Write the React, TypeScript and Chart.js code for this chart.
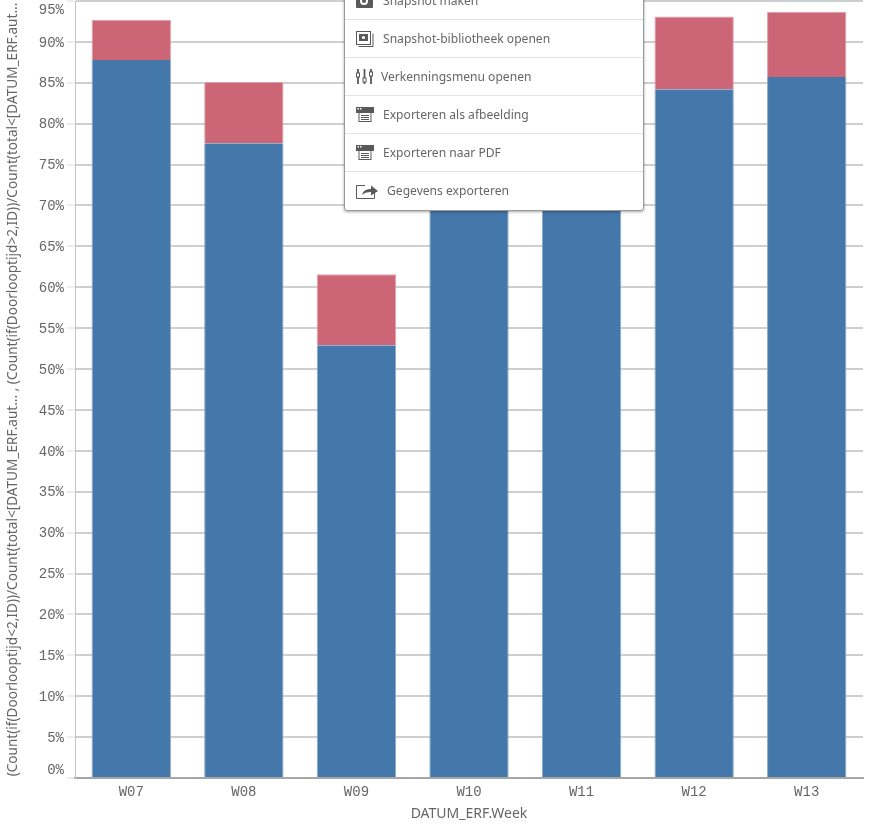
import React, { useEffect, useRef } from "react";
import { Chart, registerables } from "chart.js";

Chart.register(...registerables);

const weeks = ["W07", "W08", "W09", "W10", "W11", "W12", "W13"];
const withinTwo = [87.8, 77.6, 52.9, 79, 81, 84.2, 85.7];
const overTwo = [4.9, 7.5, 8.7, 8, 6, 8.9, 8.0];
const yTitle = "(Count(if(Doorlooptijd<2,ID))/Count(total<[DATUM_ERF.aut... , (Count(if(Doorlooptijd>2,ID))/Count(total<[DATUM_ERF.aut...";
const xTitle = "DATUM_ERF.Week";
const menuItems = ["Snapshot maken", "Snapshot-bibliotheek openen", "Verkenningsmenu openen", "Exporteren als afbeelding", "Exporteren naar PDF", "Gegevens exporteren"];
const menuIcons = ["camera", "library", "sliders", "window", "window", "share"];
const menuTextLeft = [38, 38, 36, 38, 38, 42];

function Icon({ kind }: { kind: string }) {
  const c = "#595959";
  if (kind === "camera") return <svg width="20" height="20"><rect x="1" y="3" width="17" height="14" rx="1" fill={c} /><circle cx="9" cy="10" r="4" fill="#fff" /><circle cx="9" cy="10" r="2" fill={c} /></svg>;
  if (kind === "library") return <svg width="20" height="20"><path d="M3.5 17.5h14.5v-13" fill="none" stroke={c} /><rect x="1.5" y="2.5" width="14" height="13" fill="#fff" stroke={c} /><rect x="4" y="5" width="9" height="7" fill={c} /><circle cx="8.5" cy="8.5" r="1.6" fill="#fff" /></svg>;
  if (kind === "sliders") return <svg width="20" height="20"><path d="M3 2v15M9.5 2v15M16 2v15" stroke={c} strokeWidth="1.8" /><rect x="1.5" y="6" width="3" height="4" fill="#fff" stroke={c} /><rect x="8" y="11" width="3" height="4" fill="#fff" stroke={c} /><rect x="14.5" y="5" width="3" height="4" fill="#fff" stroke={c} /></svg>;
  if (kind === "window") return <svg width="20" height="20"><rect x="1" y="2" width="18" height="6" fill={c} /><rect x="2.5" y="3" width="1.5" height="1.5" fill="#fff" /><rect x="5" y="3" width="1.5" height="1.5" fill="#fff" /><rect x="3.5" y="7" width="13" height="10" fill={c} /><rect x="4.5" y="8" width="11" height="8" fill="#fff" /><path d="M6 10.5h8M6 12.5h8M6 14.5h8" stroke={c} /></svg>;
  return <svg width="24" height="20"><path d="M10 4.5H1.5v13h18v-6" fill="none" stroke={c} /><path d="M7 14c1-4 4-6 9-6V4.5l7 5.5-7 4.5V11c-4 0-7 1-9 3z" fill={c} /></svg>;
}

export default function App() {
  const ref = useRef<HTMLCanvasElement>(null);

  useEffect(() => {
    document.body.style.margin = "0";
    const chart = new Chart(ref.current!, {
      type: "bar",
      data: {
        labels: weeks,
        datasets: [
          { label: "Doorlooptijd < 2", data: withinTwo, backgroundColor: "#4477aa", borderColor: "#8aa8c8", borderWidth: { left: 1, right: 1, top: 0, bottom: 0 } as any },
          { label: "Doorlooptijd > 2", data: overTwo, backgroundColor: "#cc6677", borderColor: "#e0a0aa", borderWidth: { left: 1, right: 1, top: 1, bottom: 0 } as any },
        ],
      },
      options: {
        responsive: false,
        animation: false,
        layout: { padding: { top: 1, right: 15, left: 0, bottom: 0 } },
        plugins: { legend: { display: false }, tooltip: { enabled: false } },
        datasets: { bar: { barPercentage: 0.705, categoryPercentage: 1 } },
        scales: {
          x: {
            stacked: true,
            grid: { display: false, drawTicks: false },
            border: { color: "#a6a6a6", width: 2 },
            ticks: { color: "#666666", font: { family: "Liberation Mono", size: 14 }, padding: 6, maxRotation: 0 },
            title: { display: true, text: xTitle, color: "#666666", font: { family: "Noto Sans", size: 14 }, padding: { top: 8, bottom: 5 } },
            afterFit: (s: any) => { s.height = 49; s.paddingLeft = 0; s.paddingRight = 0; },
          },
          y: {
            stacked: true,
            min: 0,
            max: 95,
            afterBuildTicks: (s: any) => {
              const t = [];
              for (let v = 0; v <= 95; v += 5) t.push({ value: v });
              s.ticks = t;
            },
            grid: { color: "#cfcfcf", lineWidth: 2, tickColor: "#dcdcdc", tickWidth: 1, tickLength: 8 },
            border: { color: "#c4c4c4", width: 1 },
            ticks: {
              color: "#666666",
              font: { family: "Liberation Mono", size: 14, lineHeight: 1.2 },
              padding: 3,
              labelOffset: 1,
              autoSkip: false,
              callback: (v: any) => (v === 0 ? [`${v}%`, ""] : v === 95 ? ["", `${v}%`] : `${v}%`),
            },
            title: { display: true, text: yTitle, color: "#666666", font: { family: "Noto Sans", size: 13.6 }, padding: { top: 5, bottom: 0 } },
            afterFit: (s: any) => { s.width = 75; s.paddingTop = 0; s.paddingBottom = 0; },
          },
        },
      },
    });
    return () => chart.destroy();
  }, []);

  return (
    <div style={{ position: "relative", width: 878, height: 827, overflow: "hidden", background: "#fff" }}>
      <canvas ref={ref} width={878} height={827} style={{ display: "block" }} />
      <div style={{ position: "absolute", left: 344, top: -19, width: 298, height: 228, background: "#fff", border: "1px solid #9a9a9a", borderRadius: 3, boxShadow: "0 1px 3px rgba(0,0,0,0.35)", fontFamily: "Noto Sans", fontSize: 12.1, color: "#666666" }}>
        {menuItems.map((m, i) => (
          <div key={m} style={{ position: "relative", height: 37, borderBottom: i < menuItems.length - 1 ? "1px solid #e3e3e3" : "none" }}>
            <div style={{ position: "absolute", left: 10, top: 9, lineHeight: 0 }}><Icon kind={menuIcons[i]} /></div>
            <div style={{ position: "absolute", left: menuTextLeft[i], top: 9, lineHeight: "19px", whiteSpace: "nowrap" }}>{m}</div>
          </div>
        ))}
      </div>
    </div>
  );
}
